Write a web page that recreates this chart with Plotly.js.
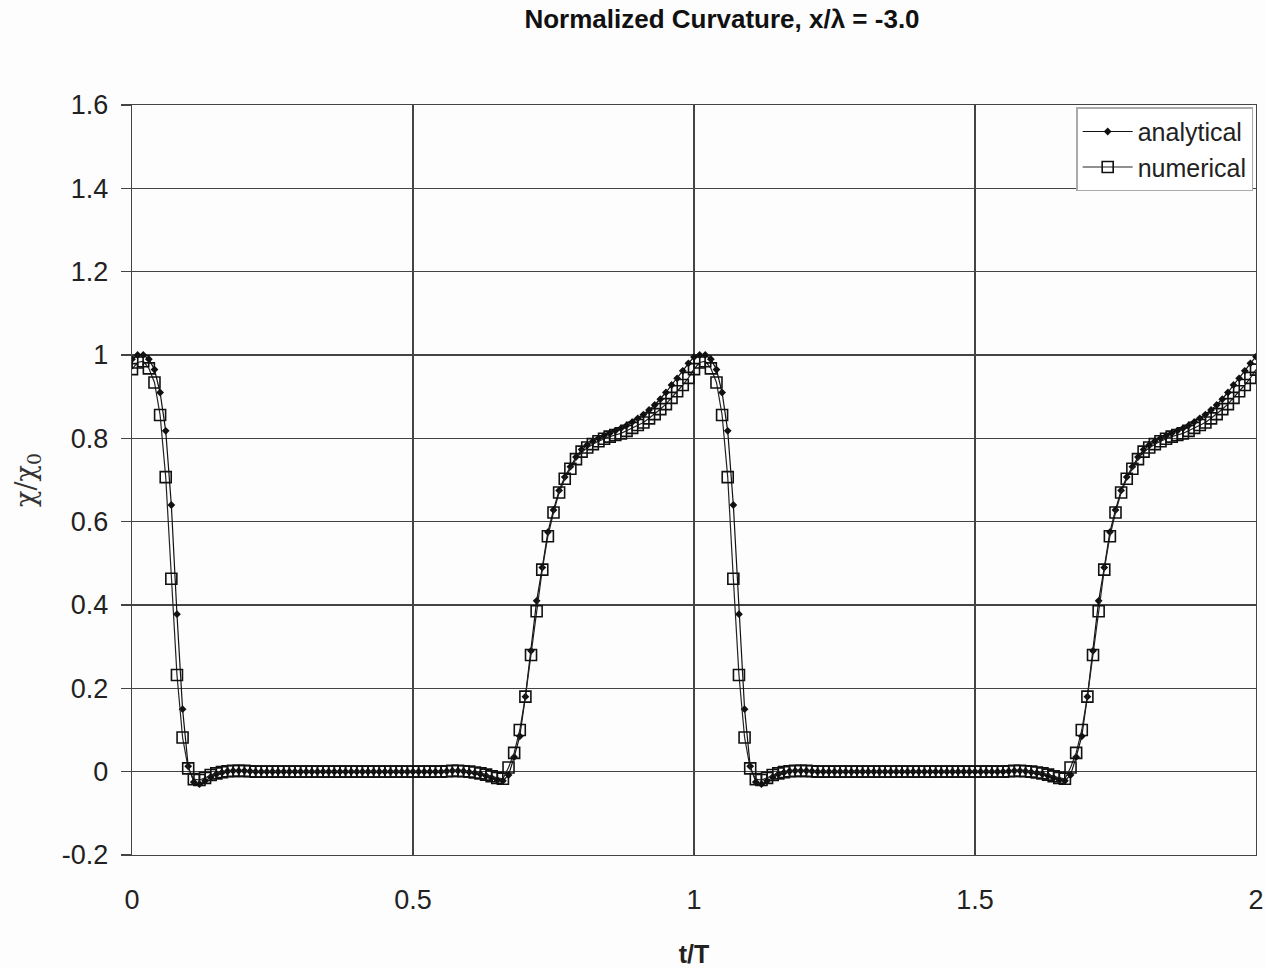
<!DOCTYPE html>
<html>
<head>
<meta charset="utf-8">
<script src="https://cdn.plot.ly/plotly-3.0.1.min.js"></script>
<style>
html,body{margin:0;padding:0;background:#fdfdfd;}
#chart{width:1266px;height:968px;}
</style>
</head>
<body>
<div id="chart"></div>
<script>
// time t/T
const t = [
0,0.01,0.02,0.03,0.04,0.05,0.06,0.07,0.08,0.09,
0.1,0.11,0.12,0.13,0.14,0.15,0.16,0.17,0.18,0.19,
0.2,0.21,0.22,0.23,0.24,0.25,0.26,0.27,0.28,0.29,
0.3,0.31,0.32,0.33,0.34,0.35,0.36,0.37,0.38,0.39,
0.4,0.41,0.42,0.43,0.44,0.45,0.46,0.47,0.48,0.49,
0.5,0.51,0.52,0.53,0.54,0.55,0.56,0.57,0.58,0.59,
0.6,0.61,0.62,0.63,0.64,0.65,0.66,0.67,0.68,0.69,
0.7,0.71,0.72,0.73,0.74,0.75,0.76,0.77,0.78,0.79,
0.8,0.81,0.82,0.83,0.84,0.85,0.86,0.87,0.88,0.89,
0.9,0.91,0.92,0.93,0.94,0.95,0.96,0.97,0.98,0.99,
1,1.01,1.02,1.03,1.04,1.05,1.06,1.07,1.08,1.09,
1.1,1.11,1.12,1.13,1.14,1.15,1.16,1.17,1.18,1.19,
1.2,1.21,1.22,1.23,1.24,1.25,1.26,1.27,1.28,1.29,
1.3,1.31,1.32,1.33,1.34,1.35,1.36,1.37,1.38,1.39,
1.4,1.41,1.42,1.43,1.44,1.45,1.46,1.47,1.48,1.49,
1.5,1.51,1.52,1.53,1.54,1.55,1.56,1.57,1.58,1.59,
1.6,1.61,1.62,1.63,1.64,1.65,1.66,1.67,1.68,1.69,
1.7,1.71,1.72,1.73,1.74,1.75,1.76,1.77,1.78,1.79,
1.8,1.81,1.82,1.83,1.84,1.85,1.86,1.87,1.88,1.89,
1.9,1.91,1.92,1.93,1.94,1.95,1.96,1.97,1.98,1.99,
2
];

// analytical chi/chi0
const analytical = [
0.99,1.0,1.0,0.99,0.965,0.91,0.818,0.64,0.378,0.15,
0.013,-0.025,-0.03,-0.022,-0.013,-0.006,-0.002,0.001,0.002,0.002,
0.002,0.001,0,0,0,0,0,0,0,0,
0,0,0,0,0,0,0,0,0,0,
0,0,0,0,0,0,0,0,0,0,
0,0,0,0,0,0,0.001,0.002,0.002,0.001,
-0.001,-0.003,-0.006,-0.01,-0.015,-0.02,-0.022,-0.008,0.035,0.085,
0.18,0.29,0.41,0.49,0.575,0.628,0.675,0.707,0.732,0.755,
0.773,0.784,0.793,0.80,0.806,0.812,0.818,0.824,0.831,0.839,
0.848,0.857,0.868,0.88,0.894,0.91,0.928,0.944,0.962,0.98,
0.995,1.0,1.0,0.99,0.965,0.91,0.818,0.64,0.378,0.15,
0.013,-0.025,-0.03,-0.022,-0.013,-0.006,-0.002,0.001,0.002,0.002,
0.002,0.001,0,0,0,0,0,0,0,0,
0,0,0,0,0,0,0,0,0,0,
0,0,0,0,0,0,0,0,0,0,
0,0,0,0,0,0,0.001,0.002,0.002,0.001,
-0.001,-0.003,-0.006,-0.01,-0.015,-0.02,-0.022,-0.008,0.035,0.085,
0.18,0.29,0.41,0.49,0.575,0.628,0.675,0.707,0.732,0.755,
0.773,0.784,0.793,0.80,0.806,0.812,0.818,0.824,0.831,0.839,
0.848,0.857,0.868,0.88,0.894,0.91,0.928,0.944,0.962,0.98,
0.996
];

// numerical chi/chi0
const numerical = [
0.966,0.982,0.985,0.968,0.934,0.856,0.707,0.463,0.232,0.082,
0.008,-0.018,-0.02,-0.015,-0.008,-0.004,-0.001,0.001,0.002,0.002,
0.002,0.001,0,0,0,0,0,0,0,0,
0,0,0,0,0,0,0,0,0,0,
0,0,0,0,0,0,0,0,0,0,
0,0,0,0,0,0,0.001,0.002,0.002,0.001,
0,-0.002,-0.004,-0.007,-0.011,-0.015,-0.017,0.01,0.045,0.10,
0.18,0.28,0.385,0.485,0.565,0.622,0.67,0.703,0.727,0.75,
0.768,0.778,0.786,0.793,0.799,0.804,0.808,0.812,0.818,0.825,
0.832,0.838,0.848,0.858,0.87,0.882,0.897,0.913,0.928,0.945,
0.966,0.982,0.985,0.968,0.934,0.856,0.707,0.463,0.232,0.082,
0.008,-0.018,-0.02,-0.015,-0.008,-0.004,-0.001,0.001,0.002,0.002,
0.002,0.001,0,0,0,0,0,0,0,0,
0,0,0,0,0,0,0,0,0,0,
0,0,0,0,0,0,0,0,0,0,
0,0,0,0,0,0,0.001,0.002,0.002,0.001,
0,-0.002,-0.004,-0.007,-0.011,-0.015,-0.017,0.01,0.045,0.10,
0.18,0.28,0.385,0.485,0.565,0.622,0.67,0.703,0.727,0.75,
0.768,0.778,0.786,0.793,0.799,0.804,0.808,0.812,0.818,0.825,
0.832,0.838,0.848,0.858,0.87,0.882,0.897,0.913,0.928,0.945,
0.965
];

const xTickVals = [0, 0.5, 1, 1.5, 2];
const xTickText = ["0", "0.5", "1", "1.5", "2"];
const yTickVals = [-0.2, 0, 0.2, 0.4, 0.6, 0.8, 1, 1.2, 1.4, 1.6];
const yTickText = ["-0.2", "0", "0.2", "0.4", "0.6", "0.8", "1", "1.2", "1.4", "1.6"];

const traces = [
  {
    x: t, y: analytical, name: "analytical", type: "scatter", mode: "lines+markers",
    line: {color: "#111", width: 1.2},
    marker: {symbol: "diamond", size: 6, color: "#111"}
  },
  {
    x: t, y: numerical, name: "numerical", type: "scatter", mode: "lines+markers",
    line: {color: "#222", width: 1.2},
    marker: {symbol: "square-open", size: 11, color: "#111", line: {width: 1.6, color: "#111"}}
  }
];

const gridColor = "#444";
const layout = {
  width: 1266, height: 968,
  margin: {l: 132, r: 10, t: 105, b: 113},
  paper_bgcolor: "#fdfdfd", plot_bgcolor: "#fdfdfd",
  font: {family: "Liberation Sans, Arial, sans-serif", color: "#222"},
  title: {
    text: "<b>Normalized Curvature, x/λ = -3.0</b>",
    font: {size: 26, family: "Liberation Sans, Arial, sans-serif", color: "#111"},
    xref: "container", x: 0.5703, xanchor: "center",
    yref: "container", y: 0.980, yanchor: "middle"
  },
  xaxis: {
    range: [0, 2], tickvals: xTickVals, ticktext: xTickText,
    showgrid: true, gridcolor: gridColor, gridwidth: 1.4,
    zeroline: false, showline: true, linecolor: gridColor, linewidth: 1.4, mirror: true,
    ticks: "", ticklabelstandoff: 20,
    tickfont: {size: 27, color: "#222"},
    title: {text: "<b>t/T</b>", font: {size: 25, color: "#222"}, standoff: 38}
  },
  yaxis: {
    range: [-0.2, 1.6], tickvals: yTickVals, ticktext: yTickText,
    showgrid: true, gridcolor: gridColor, gridwidth: 1.4,
    zeroline: false, showline: true, linecolor: gridColor, linewidth: 1.4, mirror: true,
    ticks: "outside", ticklen: 10, tickcolor: gridColor, tickwidth: 1.4,
    ticklabelstandoff: 7,
    tickfont: {size: 27, color: "#222"},
    title: {text: "χ/χ<sub>0</sub>", font: {size: 27, family: "DejaVu Serif, Liberation Serif, serif", color: "#333"}, standoff: 18}
  },
  legend: {
    x: 0.9975, y: 0.997, xanchor: "right", yanchor: "top",
    bgcolor: "#ffffff", bordercolor: "#aaa", borderwidth: 1.5,
    font: {size: 25, color: "#222"}, tracegroupgap: 0, itemwidth: 50
  },
  showlegend: true
};

Plotly.newPlot("chart", traces, layout, {staticPlot: true, displayModeBar: false});
</script>
</body>
</html>
